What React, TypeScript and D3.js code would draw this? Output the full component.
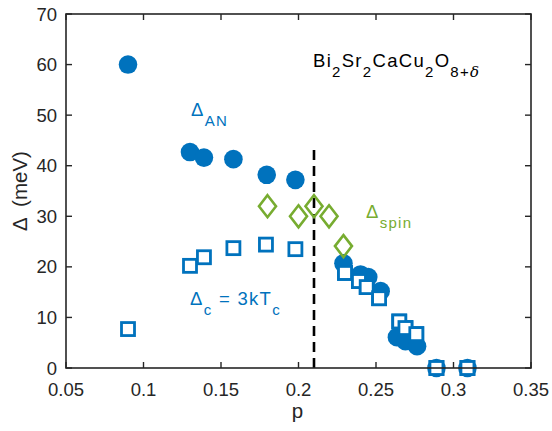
import React from "react";
import * as d3 from "d3";

const anP = [0.09, 0.13, 0.139, 0.158, 0.1795, 0.198, 0.229, 0.240, 0.245, 0.253, 0.2635, 0.269, 0.2765, 0.289, 0.309];
const anV = [60, 42.7, 41.6, 41.3, 38.2, 37.2, 20.7, 18.5, 18.0, 15.2, 6.1, 5.3, 4.3, 0, 0];
const cP = [0.09, 0.13, 0.139, 0.158, 0.179, 0.198, 0.23, 0.239, 0.244, 0.252, 0.265, 0.269, 0.276, 0.289, 0.309];
const cV = [7.7, 20.2, 21.9, 23.7, 24.4, 23.5, 18.8, 17.2, 16.0, 13.8, 9.2, 7.9, 6.7, 0, 0];
const spinP = [0.18, 0.2, 0.21, 0.2197, 0.229];
const spinV = [32, 30, 32, 30, 24.1];
const xTicks = [0.05, 0.1, 0.15, 0.2, 0.25, 0.3, 0.35];
const xTickLabels = ["0.05", "0.1", "0.15", "0.2", "0.25", "0.3", "0.35"];
const yTicks = [0, 10, 20, 30, 40, 50, 60, 70];
const dashP = 0.21;
const dashTop = 43.5;

const BLUE = "#0072BD";
const GREEN = "#77AC30";
const FONT = "'Liberation Sans', Arial, Helvetica, sans-serif";

export default function App() {
  const W = 552, H = 431;
  const L = 66, R = 531, T = 14, B = 368;
  const x = d3.scaleLinear().domain([0.05, 0.35]).range([L, R]);
  const y = d3.scaleLinear().domain([0, 70]).range([B, T]);
  const tl = 6;
  const fs = 18.5;
  const sub = 15;
  const dy = 10;
  const ls = 1.3;
  return (
    <svg width={W} height={H} style={{ position: "absolute", left: 0, top: 0, background: "#fff" }} fontFamily={FONT}>
      <rect x={0} y={0} width={W} height={H} fill="#fff" />
      <line x1={x(dashP)} x2={x(dashP)} y1={y(0)} y2={y(dashTop)} stroke="#000" strokeWidth={2.6} strokeDasharray="10,6" />
      {cP.map((p, i) => (
        <rect key={"s" + i} x={x(p) - 6.5} y={y(cV[i]) - 6.5} width={13} height={13} fill="#fff" stroke={BLUE} strokeWidth={2.8} />
      ))}
      {anP.map((p, i) => (
        <circle key={"c" + i} cx={x(p)} cy={y(anV[i])} r={9.3} fill={BLUE} />
      ))}
      {cP.map((p, i) => i >= 6 ? (
        <rect key={"s2" + i} x={x(p) - 6.5} y={y(cV[i]) - 6.5} width={13} height={13} fill="#fff" stroke={BLUE} strokeWidth={2.8} />
      ) : null)}
      {spinP.map((p, i) => {
        const cx = x(p), cy = y(spinV[i]);
        const w = 8.5, h = 11;
        return (
          <path key={"d" + i} d={`M${cx},${cy - h}L${cx + w},${cy}L${cx},${cy + h}L${cx - w},${cy}Z`} fill="none" stroke={GREEN} strokeWidth={2.6} />
        );
      })}
      <rect x={L} y={T} width={R - L} height={B - T} fill="none" stroke="#262626" strokeWidth={1.6} />
      {xTicks.map((t, i) => (
        <g key={"xt" + i}>
          <line x1={x(t)} x2={x(t)} y1={B} y2={B - tl} stroke="#262626" strokeWidth={1.4} />
          <line x1={x(t)} x2={x(t)} y1={T} y2={T + tl} stroke="#262626" strokeWidth={1.4} />
          <text x={x(t)} y={396} textAnchor="middle" fontSize={fs} fill="#262626">{xTickLabels[i]}</text>
        </g>
      ))}
      {yTicks.map((t, i) => (
        <g key={"yt" + i}>
          <line x1={L} x2={L + tl} y1={y(t)} y2={y(t)} stroke="#262626" strokeWidth={1.4} />
          <line x1={R} x2={R - tl} y1={y(t)} y2={y(t)} stroke="#262626" strokeWidth={1.4} />
          <text x={L - 9} y={y(t) + 6.5} textAnchor="end" fontSize={fs} fill="#262626">{t}</text>
        </g>
      ))}
      <text x={(L + R) / 2 - 1} y={418} textAnchor="middle" fontSize={20.5} fill="#262626">p</text>
      <text transform={`translate(27,${(T + B) / 2}) rotate(-90)`} textAnchor="middle" fontSize={20.5} fill="#262626" style={{ whiteSpace: "pre" }}>{"Δ  (meV)"}</text>
      <text x={191} y={116} fontSize={fs} fill={BLUE} letterSpacing={ls}>Δ<tspan fontSize={sub} dy={dy}>AN</tspan></text>
      <text x={366} y={218} fontSize={fs} fill={GREEN} letterSpacing={ls}>Δ<tspan fontSize={sub} dy={dy}>spin</tspan></text>
      <text x={190} y={305} fontSize={fs} fill={BLUE} letterSpacing={ls} style={{ whiteSpace: "pre" }}>Δ<tspan fontSize={sub} dy={dy}>c</tspan><tspan dy={-dy}>{" = 3kT"}</tspan><tspan fontSize={sub} dy={dy}>c</tspan></text>
      <text x={313} y={67} fontSize={fs} fill="#000" letterSpacing={ls}>
        Bi<tspan fontSize={sub} dy={dy}>2</tspan><tspan dy={-dy}>Sr</tspan><tspan fontSize={sub} dy={dy}>2</tspan><tspan dy={-dy}>CaCu</tspan><tspan fontSize={sub} dy={dy}>2</tspan><tspan dy={-dy}>O</tspan><tspan fontSize={sub} dy={dy}>8+</tspan><tspan fontSize={sub} fontStyle="italic" fontFamily="'DejaVu Serif', serif">δ</tspan>
      </text>
    </svg>
  );
}
